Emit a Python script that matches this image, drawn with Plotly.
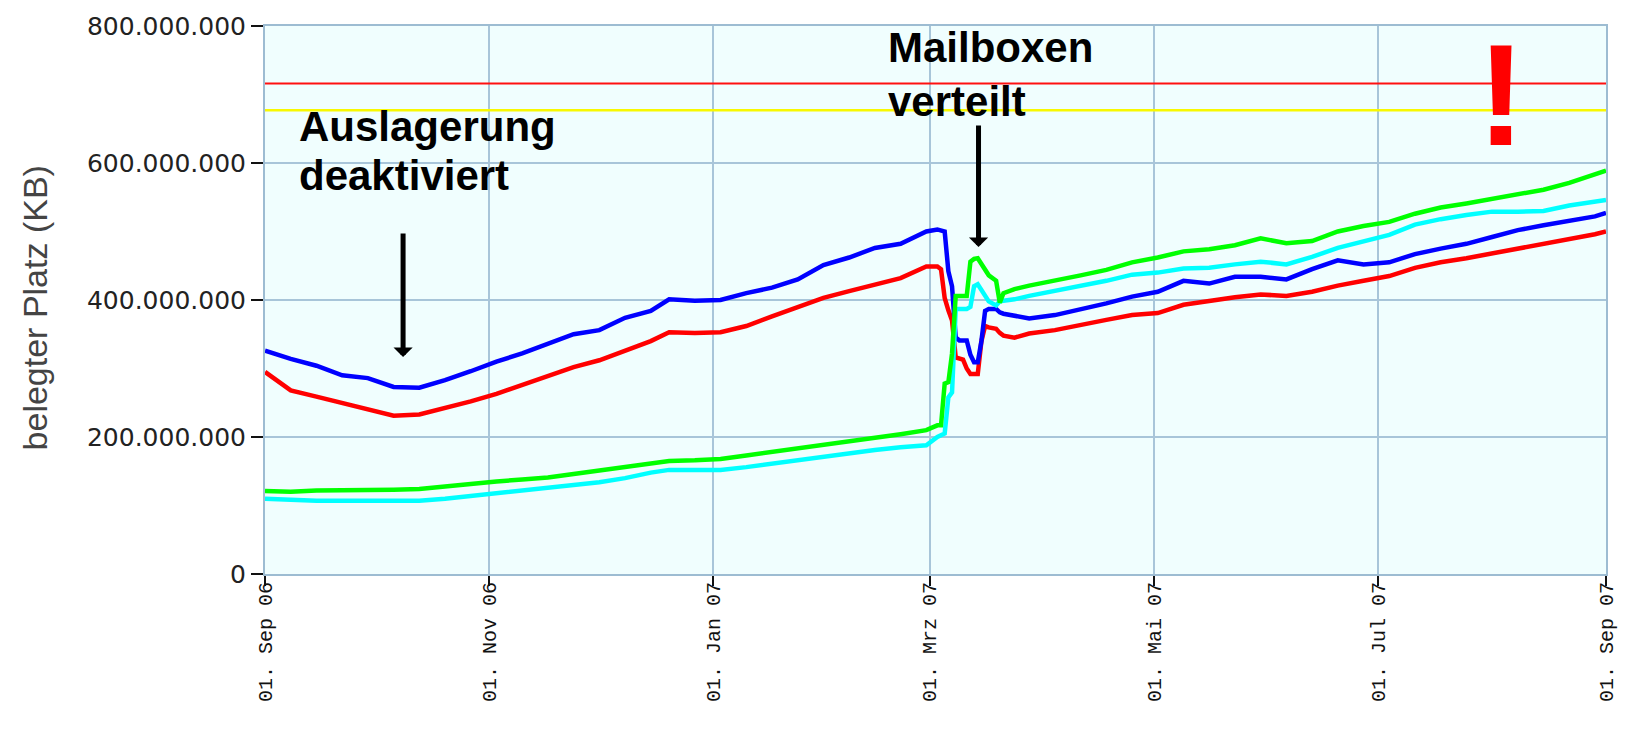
import plotly.graph_objects as go

# ---------------- data (values in millions of KB) ----------------
dates = ["2006-09-01","2006-09-08","2006-09-15","2006-09-22","2006-09-29",
         "2006-10-06","2006-10-13","2006-10-20","2006-10-27",
         "2006-11-03","2006-11-10","2006-11-17","2006-11-24",
         "2006-12-01","2006-12-08","2006-12-15","2006-12-20","2006-12-27",
         "2007-01-03","2007-01-10","2007-01-17","2007-01-24","2007-01-31",
         "2007-02-07","2007-02-14","2007-02-21","2007-02-28",
         "2007-03-03","2007-03-04","2007-03-05","2007-03-06","2007-03-07",
         "2007-03-08","2007-03-09","2007-03-10","2007-03-11","2007-03-12",
         "2007-03-13","2007-03-14","2007-03-15","2007-03-16","2007-03-17",
         "2007-03-19","2007-03-20","2007-03-21","2007-03-24","2007-03-28",
         "2007-04-04","2007-04-11","2007-04-18","2007-04-25",
         "2007-05-02","2007-05-09","2007-05-16","2007-05-23","2007-05-30",
         "2007-06-06","2007-06-13","2007-06-20","2007-06-27",
         "2007-07-04","2007-07-11","2007-07-18","2007-07-25",
         "2007-08-01","2007-08-08","2007-08-15","2007-08-22","2007-08-29",
         "2007-09-01"]

blue = [326, 314, 304, 290, 286,
        273, 272, 283, 296,
        310, 322, 336, 350,
        356, 374, 384, 401, 399,
        400, 410, 418, 430, 451,
        462, 476, 482, 500,
        503, 501, 500, 442, 420,
        345, 341, 341, 341, 320,
        309, 309, 340, 384, 387,
        387, 382, 380, 377, 373,
        378, 386, 395, 405,
        412, 428, 424, 434, 434,
        430, 445, 458, 452,
        455, 467, 475, 482,
        492, 502, 509, 516, 522,
        527]

red = [295, 268, 259, 250, 241,
       231, 233, 242, 252,
       263, 276, 288, 302,
       312, 326, 340, 353, 352,
       353, 362, 376, 390, 403,
       413, 422, 432, 449,
       449, 445, 403, 385, 370,
       316, 314, 313, 300, 292,
       292, 292, 340, 362, 360,
       358, 352, 348, 345, 351,
       356, 364, 371, 378,
       381, 393, 399, 404, 408,
       406, 412, 421, 428,
       435, 447, 455, 461,
       468, 475, 482, 488, 496,
       500]

green = [121, 120, 122, 122, 123,
         123, 124, 128, 132,
         135, 138, 141, 146,
         151, 156, 162, 165, 166,
         168, 173, 178, 183, 188,
         194, 199, 204, 210,
         217, 217, 278, 280, 322,
         406, 406, 406, 406, 456,
         460, 461, 452, 444, 436,
         428, 396, 410, 416, 421,
         428, 436, 444, 455,
         462, 471, 474, 480, 490,
         483, 486, 500, 508,
         514, 526, 535, 541,
         548, 555, 561, 571, 583,
         589]

cyan = [110, 108, 107, 107, 107,
        107, 107, 110, 114,
        118, 122, 126, 130,
        134, 140, 148, 152, 152,
        152, 156, 161, 167, 172,
        176, 181, 185, 188,
        200, 203, 205, 258, 265,
        387, 387, 387, 387, 390,
        420, 423, 415, 405, 398,
        392, 398, 399, 401, 406,
        413, 420, 428, 437,
        440, 446, 447, 452, 456,
        452, 463, 476, 485,
        495, 510, 518, 524,
        529, 529, 530, 538, 544,
        546]

limit_red = 716
limit_yellow = 677

tick_dates = ["2006-09-01", "2006-11-01", "2007-01-01", "2007-03-01",
              "2007-05-01", "2007-07-01", "2007-09-01"]
tick_labels = ["01. Sep 06", "01. Nov 06", "01. Jan 07", "01. Mrz 07",
               "01. Mai 07", "01. Jul 07", "01. Sep 07"]
y_ticks = [0, 200, 400, 600, 800]

UNIT = 1_000_000
def kb(vals):
    return [v * UNIT for v in vals]

# ---------------- figure ----------------
fig = go.Figure()

span = [dates[0], dates[-1]]
fig.add_trace(go.Scatter(x=span, y=kb([limit_red, limit_red]), mode="lines",
                         line=dict(color="#ff1010", width=2), hoverinfo="skip"))
fig.add_trace(go.Scatter(x=span, y=kb([limit_yellow, limit_yellow]), mode="lines",
                         line=dict(color="#f8f800", width=2.5), hoverinfo="skip"))

for vals, col in [(red, "#ff0000"), (blue, "#0000ff"), (cyan, "#00ffff"), (green, "#00ff00")]:
    fig.add_trace(go.Scatter(x=dates, y=kb(vals), mode="lines",
                             line=dict(color=col, width=4.5)))

W, H = 1633, 738
L, R, T, B = 265, 27, 21, 164
pw, ph = W - L - R, H - T - B

def px_x(x):
    return (x - L) / pw

def px_y(y):
    return (H - B - y) / ph

grid = "#a8c5d9"
fig.update_layout(
    width=W, height=H,
    margin=dict(l=L, r=R, t=T, b=B, pad=0),
    paper_bgcolor="white",
    plot_bgcolor="#f0fefe",
    showlegend=False,
    separators=",.",
    font=dict(family="Liberation Sans, Arial, sans-serif", color="#222"),
    xaxis=dict(
        type="date",
        range=[tick_dates[0], tick_dates[-1]],
        tickvals=tick_dates, ticktext=tick_labels,
        tickangle=-90,
        tickfont=dict(family="Courier New, Liberation Mono, monospace", size=20, color="#111"),
        ticklabelstandoff=-12,
        showgrid=True, gridcolor=grid, gridwidth=2,
        showline=True, linecolor="#9dbcd2", linewidth=2, mirror=True,
        ticks="outside", ticklen=10, tickwidth=2, tickcolor="#111",
        zeroline=False,
    ),
    yaxis=dict(
        range=[0, 800 * UNIT],
        tickvals=kb(y_ticks),
        tickformat=",d",
        tickfont=dict(family="DejaVu Sans, Liberation Sans, sans-serif", size=25, color="#222"),
        showgrid=True, gridcolor=grid, gridwidth=2,
        showline=True, linecolor="#9dbcd2", linewidth=2, mirror=True,
        ticks="outside", ticklen=12, tickwidth=2, tickcolor="#111",
        zeroline=False,
    ),
)

bold = dict(size=42, color="black", family="Liberation Sans, Arial, sans-serif")
ann = []
ann.append(dict(text="belegter Platz (KB)", textangle=-90, showarrow=False,
                xref="paper", yref="paper", x=px_x(35), y=px_y(306),
                xanchor="center", yanchor="middle",
                font=dict(size=34, color="#444")))
for txt, x, y in [("Auslagerung", 297, 97), ("deaktiviert", 297, 146),
                  ("Mailboxen", 886, 17), ("verteilt", 886, 71)]:
    ann.append(dict(text="<b>%s</b>" % txt, showarrow=False, align="left",
                    xref="paper", yref="paper", x=px_x(x), y=px_y(y),
                    xanchor="left", yanchor="top", font=bold))
ann.append(dict(text="<b>!</b>", showarrow=False,
                xref="paper", yref="paper", x=px_x(1500.5), y=px_y(90.5),
                xanchor="center", yanchor="middle",
                font=dict(size=145, color="#ff0000",
                          family="Liberation Sans Narrow, Arial Narrow, Liberation Sans, Arial")))
# arrows
ann.append(dict(text="", x="2006-10-08 14:00", y=316.8 * UNIT, xref="x", yref="y",
                showarrow=True, ax=0, ay=-125, axref="pixel", ayref="pixel",
                arrowhead=1, arrowsize=0.64, arrowwidth=5, arrowcolor="black", standoff=0))
ann.append(dict(text="", x="2007-03-14 05:00", y=477.4 * UNIT, xref="x", yref="y",
                showarrow=True, ax=0, ay=-123, axref="pixel", ayref="pixel",
                arrowhead=1, arrowsize=0.64, arrowwidth=5, arrowcolor="black", standoff=0))
fig.update_layout(annotations=ann)

fig.write_html("out.html", config={"displayModeBar": False},
               post_script="document.body.style.margin='0px';")
